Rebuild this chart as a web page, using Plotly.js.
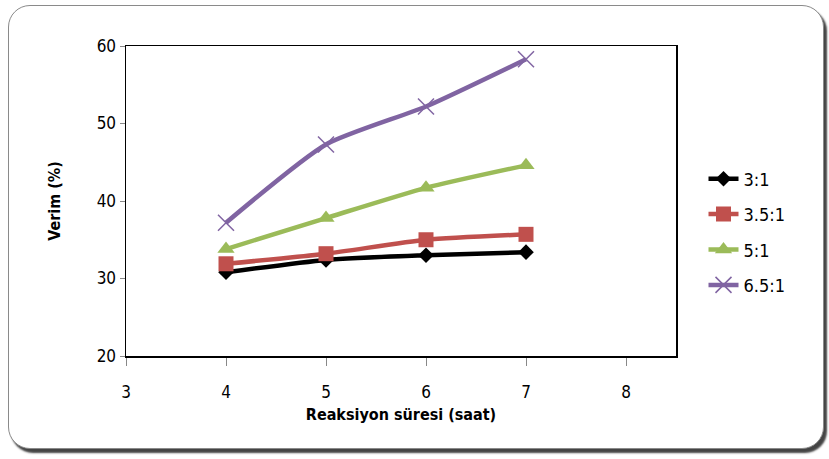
<!DOCTYPE html>
<html><head><meta charset="utf-8">
<script src="https://cdn.plot.ly/plotly-3.0.1.min.js"></script>
<style>
html,body{margin:0;padding:0;background:#fff;}
#frame{position:absolute;left:8px;top:5px;width:814px;height:442px;border:1.5px solid #8a8a8a;border-radius:22px;box-shadow:3px 4px 2px #444;background:#fff;}
#chart{position:absolute;left:0;top:0;width:829px;height:459px;}
</style></head>
<body>
<div id="frame"></div>
<div id="chart"></div>
<script>
const xHours = [4, 5, 6, 7];
const seriesNames = ["3:1", "3.5:1", "5:1", "6.5:1"];
const y31 = [30.8, 32.4, 33.0, 33.4];
const y351 = [31.9, 33.2, 35.0, 35.7];
const y51 = [33.8, 37.8, 41.7, 44.6];
const y651 = [37.2, 47.3, 52.2, 58.3];
const xTicks = [3, 4, 5, 6, 7, 8];
const yTicks = [20, 30, 40, 50, 60];

const FONT = "DejaVu Sans Condensed, Liberation Sans Narrow, Liberation Sans, sans-serif";
const styles = [
  {color:"#000000", symbol:"diamond", size:12},
  {color:"#C0504D", symbol:"square", size:15},
  {color:"#9BBB59", symbol:"triangle-up", size:15},
  {color:"#8064A2", symbol:"x-thin-open", size:16}
];
const ys = [y31, y351, y51, y651];
const traces = ys.map((y, i) => ({
  x: xHours, y: y, name: seriesNames[i], type: "scatter", mode: "lines+markers",
  legendgroup: "g" + i,
  line: {color: styles[i].color, width: 4.5, shape: "spline", smoothing: 0.6},
  marker: {color: styles[i].color, symbol: styles[i].symbol, size: styles[i].size,
           line: {color: styles[i].color, width: i === 3 ? 1.5 : 0}}
}));

const layout = {
  width: 829, height: 459,
  paper_bgcolor: "rgba(0,0,0,0)", plot_bgcolor: "#fff",
  margin: {l: 126, r: 153, t: 46, b: 103},
  font: {family: FONT, size: 16, color: "#000"},
  showlegend: true,
  legend: {x: 1.05, y: 0.40, yanchor: "middle", xanchor: "left", bgcolor: "rgba(0,0,0,0)",
           font: {family: FONT, size: 18}, itemwidth: 30, traceorder: "grouped", tracegroupgap: 9},
  xaxis: {range: [3, 8.5], tickvals: xTicks, ticks: "outside", ticklen: 8, tickcolor: "#888",
          showgrid: false, zeroline: false, showline: true, linecolor: "#000", linewidth: 1.5, mirror: true,
          tickfont: {family: FONT, size: 17}, ticklabelstandoff: 12,
          title: {text: "<b>Reaksiyon süresi (saat)</b>", font: {family: FONT, size: 16}, standoff: 8}},
  yaxis: {range: [20, 60], tickvals: yTicks, ticks: "outside", ticklen: 5, tickcolor: "#888",
          showgrid: false, zeroline: false, showline: true, linecolor: "#000", linewidth: 1.5, mirror: true,
          tickfont: {family: FONT, size: 17},
          title: {text: "<b>Verim (%)</b>", font: {family: FONT, size: 16}, standoff: 32}}
};
Plotly.newPlot("chart", traces, layout, {displayModeBar: false, staticPlot: true});
</script>
</body></html>
